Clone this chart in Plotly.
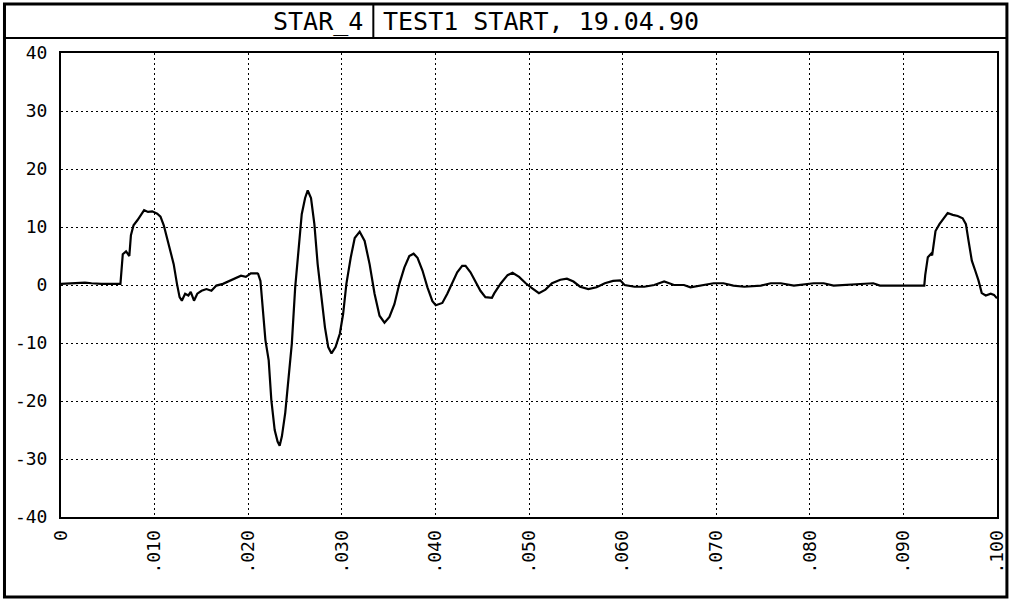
import plotly.graph_objects as go

# Time axis (s) and signal values
time_s = [
    0.0, 0.00186, 0.00256, 0.00326, 0.00432, 0.00635,
    0.00642, 0.0066, 0.00695, 0.0073, 0.00747, 0.00775, 0.00818, 0.00853, 0.00888,
    0.0093, 0.00975, 0.01028, 0.01063, 0.01098, 0.01133, 0.01168, 0.01204, 0.01239,
    0.01267, 0.01291, 0.01326, 0.01361, 0.01386, 0.01421, 0.01456, 0.01502, 0.01554,
    0.01607, 0.0166, 0.0173, 0.018, 0.01853, 0.01923, 0.01975, 0.02028, 0.02098,
    0.02106, 0.02131, 0.02148, 0.02184, 0.02219, 0.02247, 0.02283, 0.02314, 0.02336,
    0.0236, 0.02396, 0.02431, 0.02466, 0.02502, 0.02537, 0.02572, 0.02608, 0.02636,
    0.02671, 0.02707, 0.02742, 0.02784, 0.0282, 0.02855, 0.0289, 0.02933, 0.02979,
    0.03014, 0.03049, 0.03095, 0.03138, 0.03191, 0.03244, 0.03297, 0.0335, 0.03403,
    0.03456, 0.03509, 0.03562, 0.03615, 0.03668, 0.03721, 0.03767, 0.03809, 0.03862,
    0.03915, 0.03968, 0.04004, 0.04074, 0.04127, 0.0418, 0.04233, 0.04286, 0.04322,
    0.04375, 0.04428, 0.04481, 0.04534, 0.04604, 0.0463, 0.047, 0.04771, 0.04824,
    0.04894, 0.04965, 0.05035, 0.05106, 0.05176, 0.05246, 0.05335, 0.05405, 0.05475,
    0.05546, 0.05634, 0.05722, 0.0581, 0.05898, 0.05975, 0.06021, 0.06127, 0.06232,
    0.06338, 0.06444, 0.06549, 0.06655, 0.06725, 0.06831, 0.06972, 0.07077, 0.07183,
    0.073, 0.07477, 0.07583, 0.07689, 0.0783, 0.08042, 0.08148, 0.08254, 0.08678,
    0.08749, 0.09223, 0.09233, 0.09261, 0.09297, 0.09307, 0.09322, 0.09343, 0.09385,
    0.0942, 0.09473, 0.09527, 0.0958, 0.09633, 0.09668, 0.09696, 0.09731, 0.09767,
    0.09802, 0.09837, 0.0988, 0.09933, 0.09968, 0.1,
]
signal = [
    0.2, 0.3, 0.4, 0.3, 0.2, 0.2,
    1.9, 5.3, 5.8, 5.0, 8.6, 10.3, 11.2, 12.0, 12.9,
    12.6, 12.7, 12.3, 11.8, 10.3, 8.1, 5.8, 3.6, 0.2,
    -2.1, -2.7, -1.5, -1.8, -1.2, -2.7, -1.5, -1.0, -0.7,
    -1.0, -0.1, 0.2, 0.7, 1.2, 1.6, 1.4, 2.0, 2.0,
    1.9, 0.7, -2.7, -9.5, -13.0, -19.8, -25.0, -27.0, -27.7,
    -26.1, -22.0, -16.4, -10.1, -0.4, 6.5, 12.2, 15.0, 16.3,
    15.0, 10.5, 3.6, -2.1, -7.3, -10.7, -11.8, -10.7, -8.4,
    -5.0, 0.2, 4.7, 8.1, 9.2, 7.6, 3.6, -1.5, -5.3,
    -6.5, -5.5, -3.3, 0.2, 3.0, 5.0, 5.4, 4.7, 2.5,
    -0.4, -2.8, -3.5, -3.1, -1.5, 0.5, 2.2, 3.3, 3.3,
    2.2, 0.5, -1.0, -2.1, -2.2, -1.4, 0.3, 1.7, 2.1,
    1.4, 0.3, -0.6, -1.4, -0.8, 0.3, 0.9, 1.1, 0.6,
    -0.3, -0.7, -0.4, 0.3, 0.7, 0.8, 0.0, -0.3, -0.3,
    0.0, 0.6, 0.0, 0.0, -0.4, -0.1, 0.3, 0.3, -0.1,
    -0.3, -0.1, 0.3, 0.3, -0.1, 0.3, 0.3, -0.1, 0.3,
    -0.1, -0.1, 1.7, 4.8, 5.4, 5.1, 7.1, 9.3, 10.5,
    11.3, 12.4, 12.1, 11.9, 11.5, 10.5, 7.6, 4.2, 2.5,
    0.8, -1.4, -1.8, -1.5, -1.7, -2.3,
]

x_tick_vals = [0.0, 0.01, 0.02, 0.03, 0.04, 0.05, 0.06, 0.07, 0.08, 0.09, 0.1]
x_tick_text = ["0", ".010", ".020", ".030", ".040", ".050", ".060", ".070", ".080", ".090", ".100"]
y_tick_vals = [-40, -30, -20, -10, 0, 10, 20, 30, 40]
y_tick_text = ["-40", "-30", "-20", "-10", "0", "10", "20", "30", "40"]

title_left = "STAR_4"
title_right = "TEST1 START, 19.04.90"

FONT = "DejaVu Sans Mono"

fig = go.Figure()
fig.add_trace(go.Scatter(
    x=time_s, y=signal, mode="lines",
    line=dict(color="black", width=2.2),
    hoverinfo="skip", showlegend=False,
))

axis_common = dict(
    showline=True, linecolor="black", linewidth=2, mirror=True,
    showgrid=True, gridcolor="black", gridwidth=1, griddash="2px,3px",
    zeroline=False, ticks="",
    tickfont=dict(family=FONT, size=18, color="black"),
)

fig.update_xaxes(
    range=[0, 0.1], tickvals=x_tick_vals, ticktext=x_tick_text,
    tickangle=-90, ticklabelstandoff=4, **axis_common,
)
fig.update_yaxes(
    range=[-40, 40], tickvals=y_tick_vals, ticktext=y_tick_text,
    ticklabelstandoff=8, **axis_common,
)

# paper coordinate helpers for frame (plot area: x 61..1005, y 53..517 px)
def px(xp):
    return (xp - 61) / 944.0

def py(yp):
    return (517 - yp) / 464.0

shapes = [
    dict(type="rect", xref="paper", yref="paper",
         x0=px(4), x1=px(1015), y0=py(597), y1=py(4),
         line=dict(color="black", width=3)),
    dict(type="line", xref="paper", yref="paper",
         x0=px(4), x1=px(1015), y0=py(38), y1=py(38),
         line=dict(color="black", width=2)),
    dict(type="line", xref="paper", yref="paper",
         x0=px(376), x1=px(376), y0=py(38), y1=py(4),
         line=dict(color="black", width=2)),
]

annotations = [
    dict(text=title_left, xref="paper", yref="paper", x=px(368), y=py(21),
         xanchor="right", yanchor="middle", showarrow=False,
         font=dict(family=FONT, size=25, color="black")),
    dict(text=title_right, xref="paper", yref="paper", x=px(384), y=py(21),
         xanchor="left", yanchor="middle", showarrow=False,
         font=dict(family=FONT, size=25, color="black")),
]

fig.update_layout(
    width=1019, height=602,
    margin=dict(l=61, r=14, t=53, b=85),
    paper_bgcolor="white", plot_bgcolor="white",
    shapes=shapes, annotations=annotations,
    showlegend=False,
)

fig.write_html(
    "out.html",
    config={"displayModeBar": False},
    post_script="document.body.style.margin='0px';document.body.style.overflow='hidden';",
)
